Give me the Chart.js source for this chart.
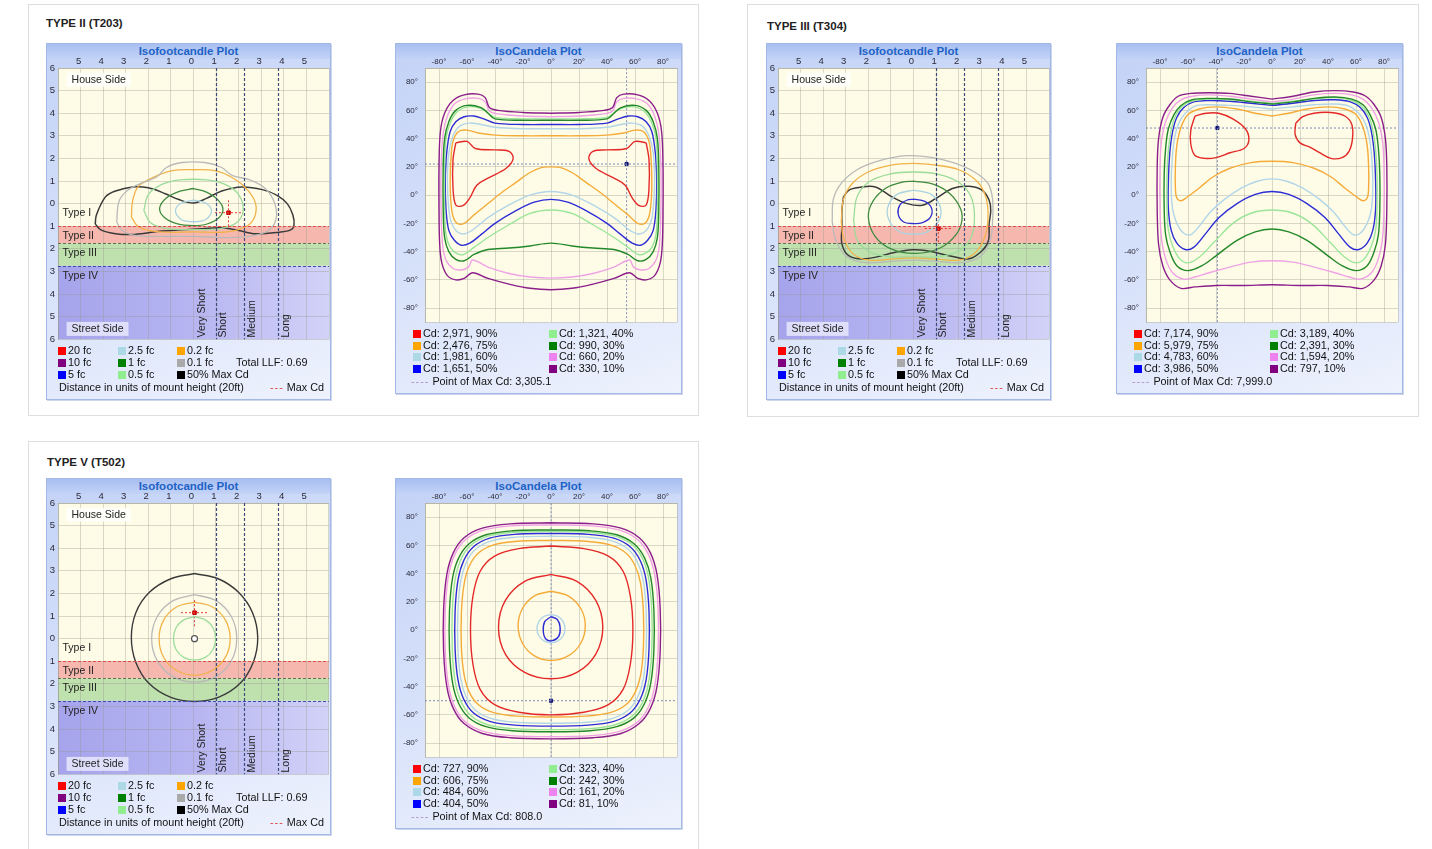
<!DOCTYPE html>
<html lang="en">
<head>
<meta charset="UTF-8">
<title>Isofootcandle / IsoCandela plots</title>
<script src="https://cdn.jsdelivr.net/npm/chart.js@4.4.1/dist/chart.umd.min.js"></script>
<style>
  body { margin:0; background:#fff; font-family:"Liberation Sans", Arial, sans-serif; width:1432px; height:849px; overflow:hidden; position:relative; }
  .card { position:absolute; border:1px solid #dedede; background:#fff; }
  .card-title { position:absolute; font-weight:bold; font-size:11.5px; color:#222; }
  .panel { position:absolute; border:1px solid #a3b8e6; background:linear-gradient(160deg,#c3d2f6 0%,#d8e2fa 55%,#eef2fd 100%); box-shadow:1px 1px 0 #cdd6ea; overflow:hidden; }
  .panel .bar { position:absolute; left:0; top:0; right:0; height:15px; background:linear-gradient(#a8bff0,#c3d3f7); }
  .panel .ptitle { position:absolute; left:0; right:0; top:1px; text-align:center; font-weight:bold; font-size:11.5px; color:#1d62c6; }
  .panel canvas { position:absolute; left:0; top:0; }
  .lg { position:absolute; font-size:10.8px; color:#111; white-space:nowrap; line-height:12px; }
  .sq { display:inline-block; width:8px; height:8px; margin-right:2px; vertical-align:-1px; }
</style>
</head>
<body>
<div class="card" style="left:28px;top:4px;width:669px;height:410px"></div>
<div class="card" style="left:747px;top:4px;width:670px;height:411px"></div>
<div class="card" style="left:28px;top:441px;width:669px;height:430px"></div>
<div class="card-title" style="left:46px;top:17px">TYPE II (T203)</div>
<div class="card-title" style="left:767px;top:20px">TYPE III (T304)</div>
<div class="card-title" style="left:47px;top:456px">TYPE V (T502)</div>

<script>
// ---------- axes ----------
const fcXTicks = [-6,-5,-4,-3,-2,-1,0,1,2,3,4,5,6];
const fcXLabels = ['','5','4','3','2','1','0','1','2','3','4','5',''];
const fcYTicks = [-6,-5,-4,-3,-2,-1,0,1,2,3,4,5,6];
const fcYLabels = ['6','5','4','3','2','1','0','1','2','3','4','5','6'];
const cdTicks = [-90,-80,-60,-40,-20,0,20,40,60,80,90];
const cdLabels = ['','-80°','-60°','-40°','-20°','0°','20°','40°','60°','80°',''];

// road classification
const bandEdges = [-1, -1.75, -2.75];          // Type II / III / IV limits
const lateralLines = [1, 2.25, 3.75];          // Very short / short / medium / long

// ---------- legends ----------
const fcLevels = ['20 fc','10 fc','5 fc','2.5 fc','1 fc','0.5 fc','0.2 fc','0.1 fc','50% Max Cd'];
const fcLegendColors = ['#ff0000','#800080','#0000ff','#add8e6','#008000','#90ee90','#ffa500','#a9a9a9','#000000'];
const cdPercents = ['90%','75%','60%','50%','40%','30%','20%','10%'];
const cdLegendColors = ['#ff0000','#ffa500','#add8e6','#0000ff','#90ee90','#008000','#ee82ee','#800080'];
const t2CdValues = ['2,971','2,476','1,981','1,651','1,321','990','660','330'];
const t3CdValues = ['7,174','5,979','4,783','3,986','3,189','2,391','1,594','797'];
const t5CdValues = ['727','606','484','404','323','242','161','81'];
const t2MaxCd = '3,305.1', t3MaxCd = '7,999.0', t5MaxCd = '808.0';
const totalLLF = '0.69';

// ---------- TYPE II isofootcandle ----------
const t2FcGray = [[-3.4,-0.8],[-3.3,0.1],[-2.9,0.6],[-2.2,0.95],[-1.6,1.2],[-1.2,1.6],[-0.5,1.82],[0.5,1.82],[1.25,1.6],[1.7,1.25],[2.5,1.05],[3.2,0.65],[3.6,0.0],[3.65,-0.7],[3.3,-1.2],[2.5,-1.45],[1.5,-1.5],[0,-1.45],[-1.5,-1.45],[-2.6,-1.4],[-3.2,-1.15],[-3.4,-0.8]];
const t2FcOrange = [[-2.75,-0.6],[-2.7,0.1],[-2.45,0.75],[-1.8,1.15],[-1.0,1.45],[0,1.5],[1.0,1.45],[1.8,1.1],[2.4,0.6],[2.75,0.0],[2.7,-0.6],[2.35,-1.0],[1.5,-1.25],[0,-1.25],[-1.5,-1.25],[-2.4,-1.05],[-2.75,-0.6]];
const t2FcLGreen = [[-2.2,-0.3],[-2.0,0.4],[-1.4,0.85],[-0.6,1.05],[0.6,1.05],[1.4,0.85],[2.0,0.4],[2.2,-0.3],[1.9,-0.85],[1.2,-1.1],[0,-1.15],[-1.2,-1.1],[-1.9,-0.85],[-2.2,-0.3]];
const t2FcDGreen = [[0,0.67],[0.6,0.5],[1.05,0.2],[1.3,-0.2],[1.15,-0.6],[0.6,-0.9],[0,-0.97],[-0.7,-0.9],[-1.3,-0.6],[-1.5,-0.2],[-1.2,0.25],[-0.6,0.55],[0,0.67]];
const t2FcLBlue = [[0,0.15],[0.5,0.05],[0.8,-0.3],[0.55,-0.7],[0,-0.8],[-0.55,-0.7],[-0.8,-0.3],[-0.5,0.05],[0,0.15]];
const t2FcBlack = [[-4.35,-0.9],[-4.3,-0.5],[-3.9,0.3],[-3.45,0.56],[-2.7,0.74],[-2.0,0.7],[-1.25,0.44],[-0.65,0.18],[0,0.03],[0.55,0.22],[1.25,0.56],[2.15,0.74],[3.05,0.62],[3.7,0.37],[4.15,0],[4.4,-0.5],[4.45,-0.96],[4.3,-1.16],[3.8,-1.26],[2.75,-1.33],[2.0,-1.19],[1.25,-1.07],[0.4,-1.11],[-0.5,-1.16],[-1.4,-1.21],[-2.6,-1.36],[-3.45,-1.33],[-4.1,-1.16],[-4.35,-0.9]];
const t2FcMax = [1.55,-0.4];

// ---------- TYPE III isofootcandle ----------
const t3FcGray = [[-3.6,-0.8],[-3.55,0.2],[-3.2,0.9],[-2.5,1.5],[-1.5,1.9],[-0.3,2.12],[0.8,2.05],[1.8,1.8],[2.7,1.4],[3.3,0.9],[3.5,0.2],[3.5,-0.8],[3.4,-1.6],[3.0,-2.3],[2.2,-2.6],[1.0,-2.55],[0,-2.5],[-1.0,-2.55],[-2.2,-2.6],[-3.0,-2.3],[-3.45,-1.6],[-3.6,-0.8]];
const t3FcOrange = [[-3.2,-0.8],[-3.1,0.2],[-2.7,0.9],[-2.0,1.4],[-1.0,1.7],[0,1.78],[1.0,1.7],[2.0,1.5],[2.8,1.0],[3.2,0.3],[3.3,-0.6],[3.15,-1.5],[2.7,-2.2],[2.0,-2.5],[1.0,-2.45],[0,-2.4],[-1.0,-2.45],[-2.0,-2.5],[-2.7,-2.2],[-3.1,-1.5],[-3.2,-0.8]];
const t3FcLGreen = [[-2.65,-0.7],[-2.5,0.3],[-2.0,0.95],[-1.1,1.3],[0,1.4],[1.1,1.3],[2.0,0.95],[2.55,0.3],[2.7,-0.7],[2.5,-1.6],[1.9,-2.15],[1.0,-2.35],[0,-2.35],[-1.0,-2.35],[-1.9,-2.15],[-2.5,-1.6],[-2.65,-0.7]];
const t3FcDGreen = [[0,1.0],[0.9,0.85],[1.6,0.45],[2.05,-0.15],[2.15,-0.7],[1.9,-1.35],[1.2,-1.95],[0.1,-2.2],[-1.0,-2.0],[-1.7,-1.45],[-2.0,-0.6],[-1.8,0.1],[-1.2,0.7],[-0.5,0.95],[0,1.0]];
const t3FcLBlue = [[0,0.6],[0.8,0.4],[1.2,-0.2],[1.1,-0.8],[0.6,-1.25],[0,-1.35],[-0.6,-1.25],[-1.05,-0.8],[-1.15,-0.2],[-0.75,0.4],[0,0.6]];
const t3FcBlue = [[0,0.2],[0.5,0.1],[0.8,-0.2],[0.75,-0.6],[0.4,-0.84],[0,-0.88],[-0.45,-0.8],[-0.68,-0.45],[-0.6,-0.05],[-0.3,0.15],[0,0.2]];
const t3FcBlack = [[-3.1,0.3],[-2.87,0.59],[-2.43,0.71],[-1.69,0.74],[-0.95,0.3],[-0.28,0],[0.39,-0.07],[0.98,0.22],[1.72,0.67],[2.46,0.77],[3.05,0.59],[3.35,0.15],[3.42,-0.3],[3.35,-0.89],[3.32,-1.63],[3.05,-2.07],[2.46,-2.44],[1.57,-2.3],[0.53,-2.07],[-0.06,-2.04],[-0.8,-2.15],[-2.13,-2.44],[-2.87,-2.3],[-3.17,-1.78],[-3.17,-1.04],[-3.17,-0.3],[-3.1,0.3]];
const t3FcMax = [1.1,-1.1];

// ---------- TYPE V isofootcandle ----------
const t5FcBlack = [[0.05,2.88],[1.1,2.65],[2.0,2.05],[2.62,1.15],[2.85,0.05],[2.65,-1.05],[2.05,-2.0],[1.1,-2.6],[0.05,-2.78],[-1.0,-2.6],[-1.95,-2.0],[-2.55,-1.05],[-2.75,0.05],[-2.55,1.15],[-1.95,2.05],[-1.0,2.65],[0.05,2.88]];
const t5FcGray = [[0.05,1.95],[1.0,1.68],[1.68,0.98],[1.92,0],[1.68,-0.98],[1.0,-1.68],[0.05,-1.92],[-0.9,-1.68],[-1.6,-0.98],[-1.85,0],[-1.6,0.98],[-0.9,1.68],[0.05,1.95]];
const t5FcOrange = [[0.05,1.62],[0.85,1.4],[1.42,0.82],[1.63,0],[1.42,-0.82],[0.85,-1.4],[0.05,-1.62],[-0.75,-1.4],[-1.32,-0.82],[-1.52,0],[-1.32,0.82],[-0.75,1.4],[0.05,1.62]];
const t5FcLGreen = [[0.05,0.97],[0.53,0.83],[0.87,0.48],[0.98,0],[0.87,-0.48],[0.53,-0.83],[0.05,-0.95],[-0.43,-0.83],[-0.77,-0.48],[-0.88,0],[-0.77,0.48],[-0.43,0.83],[0.05,0.97]];
const t5FcCenter = [[0.05,0]];
const t5FcMax = [0.05,1.15];

// ---------- TYPE II isocandela ----------
const t2CdPurple = [[0,58],[20,58.5],[38,60],[44,62],[47,69],[52,71.5],[62,71],[70,67],[76,58],[79,45],[80,20],[80,-10],[79.5,-35],[78,-48],[74,-57],[68,-60],[62,-59],[56,-55],[45,-59],[30,-63],[15,-66],[0,-67],[-15,-66],[-30,-63],[-45,-59],[-56,-55],[-62,-59],[-68,-60],[-74,-57],[-78,-48],[-79.5,-35],[-80,-10],[-80,20],[-79,45],[-76,58],[-70,67],[-62,71],[-52,71.5],[-47,69],[-44,62],[-38,60],[-20,58.5],[0,58]];
const t2CdPink = [[0,55.5],[20,56],[38,57.5],[44,59.5],[47,66],[52,68.5],[62,68],[69,64.5],[74,56],[77,44],[78.5,20],[78.5,-10],[77.5,-35],[75,-46],[70,-52],[64,-53],[59,-51],[56,-46],[45,-51],[30,-55.5],[15,-58],[0,-58.8],[-15,-58],[-30,-55.5],[-45,-51],[-56,-46],[-59,-51],[-64,-53],[-70,-52],[-75,-46],[-77.5,-35],[-78.5,-10],[-78.5,20],[-77,44],[-74,56],[-69,64.5],[-62,68],[-52,68.5],[-47,66],[-44,59.5],[-38,57.5],[-20,56],[0,55.5]];
const t2CdDGreen = [[0,53],[20,53],[40,54],[45,58],[50,62],[60,63.5],[68,60],[73,52],[76,40],[77,20],[77,-10],[76,-30],[73,-40],[68,-45.5],[62,-46.5],[55,-42],[45,-38.5],[30,-37.5],[15,-36],[0,-34],[-15,-36],[-30,-37.5],[-45,-38.5],[-55,-42],[-62,-46.5],[-68,-45.5],[-73,-40],[-76,-30],[-77,-10],[-77,20],[-76,40],[-73,52],[-68,60],[-60,63.5],[-50,62],[-45,58],[-40,54],[-20,53],[0,53]];
const t2CdLGreen = [[0,54],[20,54],[40,55],[46,59],[52,62],[60,62.5],[67,59],[72,51],[75,40],[76,20],[76,-10],[75,-28],[72,-37],[67,-41.5],[62,-42],[55,-37],[45,-30],[30,-21],[15,-13],[0,-10.5],[-15,-13],[-30,-21],[-45,-30],[-55,-37],[-62,-42],[-67,-41.5],[-72,-37],[-75,-28],[-76,-10],[-76,20],[-75,40],[-72,51],[-67,59],[-60,62.5],[-52,62],[-46,59],[-40,55],[-20,54],[0,54]];
const t2CdBlue = [[0,50],[20,50],[40,51],[48,54],[55,56],[62,55.5],[68,52],[72,45],[74.5,30],[75.5,10],[75,-10],[73,-25],[69,-32],[64,-35.5],[58,-34],[50,-28],[40,-20],[25,-11],[12,-5],[0,-3],[-12,-5],[-25,-11],[-40,-20],[-50,-28],[-58,-34],[-64,-35.5],[-69,-32],[-73,-25],[-75,-10],[-75.5,10],[-74.5,30],[-72,45],[-68,52],[-62,55.5],[-55,56],[-48,54],[-40,51],[-20,50],[0,50]];
const t2CdLBlue = [[0,47],[20,47],[40,48],[50,50],[58,51],[65,49],[70,42],[73,30],[74,10],[73,-10],[71,-20],[67,-26],[62,-27.5],[55,-24],[45,-16],[30,-7],[15,0],[0,2.5],[-15,0],[-30,-7],[-45,-16],[-55,-24],[-62,-27.5],[-67,-26],[-71,-20],[-73,-10],[-74,10],[-73,30],[-70,42],[-65,49],[-58,51],[-50,50],[-40,48],[-20,47],[0,47]];
const t2CdOrange = [[0,42],[20,42],[40,42.5],[52,44],[60,46],[66,45],[70,38],[71.5,25],[72,10],[71.5,-5],[70,-15],[67,-20],[62,-20],[55,-14],[45,-6],[35,2],[25,9],[15,16],[7,19.5],[0,20],[-7,19.5],[-15,16],[-25,9],[-35,2],[-45,-6],[-55,-14],[-62,-20],[-67,-20],[-70,-15],[-71.5,-5],[-72,10],[-71.5,25],[-70,38],[-66,45],[-60,46],[-52,44],[-40,42.5],[-20,42],[0,42]];
const t2CdRedL = [[-68,37],[-60,38],[-54,33],[-40,32],[-30,31],[-27,26],[-32,19],[-45,12],[-53,7],[-58,-2],[-63,-7.5],[-68,-7],[-70,5],[-70,25],[-68,37]];
const t2CdRedR = [[68,37],[60,38],[54,33],[40,32],[30,31],[27,26],[32,19],[45,12],[53,7],[58,-2],[63,-7.5],[68,-7],[70,5],[70,25],[68,37]];
const t2CdMax = [54,22];

// ---------- TYPE III isocandela ----------
const t3CdPurple = [[0,68],[15,70],[30,73],[45,74],[58,73],[67,70],[73,64],[78,55],[81,40],[82,20],[82,-10],[81,-35],[78,-50],[73,-60],[65,-66],[55,-65],[40,-64],[20,-64],[0,-63.5],[-20,-64],[-40,-64],[-55,-65],[-65,-66],[-73,-60],[-78,-50],[-81,-35],[-82,-10],[-82,20],[-81,40],[-78,55],[-73,64],[-67,70],[-58,72],[-45,72.5],[-30,72],[-15,70],[0,68]];
const t3CdPink = [[0,66],[15,68],[30,71],[45,72],[57,71],[65,68],[71,62],[76,52],[79,38],[80,20],[80,-10],[79,-30],[76,-45],[71,-55],[63,-59.5],[55,-58],[45,-55],[30,-51],[15,-47.5],[0,-46.5],[-15,-47.5],[-30,-51],[-45,-55],[-55,-58],[-63,-59.5],[-71,-55],[-76,-45],[-79,-30],[-80,-10],[-80,20],[-79,38],[-76,52],[-71,62],[-65,67.5],[-57,70],[-45,71],[-30,70],[-15,68],[0,66]];
const t3CdDGreen = [[0,64.5],[15,66],[30,68.5],[45,69.5],[57,68],[65,64],[70,57],[74,47],[76,33],[77,15],[77,-10],[76,-28],[73,-40],[68,-50],[60,-53.5],[50,-50],[40,-43],[25,-32],[12,-26],[0,-24],[-12,-26],[-25,-32],[-40,-43],[-50,-50],[-60,-53.5],[-68,-50],[-73,-40],[-76,-28],[-77,-10],[-77,15],[-76,33],[-74,47],[-70,57],[-65,63.5],[-57,67.5],[-45,68.5],[-30,68],[-15,66],[0,64.5]];
const t3CdLGreen = [[0,65],[15,66.5],[30,68],[45,69],[57,67],[64,63],[69,56],[72,46],[74,32],[75,15],[75,-10],[74,-25],[71,-36],[66,-45],[60,-48],[52,-44],[42,-34],[28,-20],[14,-12.5],[0,-10.5],[-14,-12.5],[-28,-20],[-42,-34],[-52,-44],[-60,-48],[-66,-45],[-71,-36],[-74,-25],[-75,-10],[-75,15],[-74,32],[-72,46],[-69,56],[-64,63],[-57,66.5],[-45,68],[-30,67.5],[-15,66.5],[0,65]];
const t3CdBlue = [[0,63.5],[15,65],[30,67],[45,67.5],[56,66],[63,62],[68,55],[71,45],[73,30],[74,10],[74,-10],[72,-25],[68,-34],[62,-38.5],[56,-37],[48,-28],[38,-16],[25,-6],[12,0.5],[0,2.5],[-12,0.5],[-25,-6],[-38,-16],[-48,-28],[-56,-37],[-62,-38.5],[-68,-34],[-72,-25],[-74,-10],[-74,10],[-73,30],[-71,45],[-68,55],[-63,62],[-56,66],[-45,67],[-30,66.5],[-15,65],[0,63.5]];
const t3CdLBlue = [[0,61],[15,62.5],[30,64],[45,64.5],[55,63],[62,58],[67,50],[70,38],[71.5,22],[72,5],[71,-10],[68,-20],[63,-27],[58,-28],[52,-22],[44,-12],[34,-3],[22,5],[10,10],[0,11.5],[-10,10],[-22,5],[-34,-3],[-44,-12],[-52,-22],[-58,-28],[-63,-27],[-68,-20],[-71,-10],[-72,5],[-71.5,22],[-70,38],[-67,50],[-62,58],[-55,63],[-45,64],[-30,63.5],[-15,62.5],[0,61]];
const t3CdOrange = [[0,56],[12,58],[25,61],[40,62.5],[52,61],[60,57],[65,48],[68,35],[69,20],[69,5],[68,-2],[65,-4],[60,-1],[52,5],[42,13],[30,19],[15,23],[0,24],[-15,23],[-30,19],[-42,13],[-52,5],[-60,-1],[-65,-4],[-68,-2],[-69,5],[-69,20],[-68,35],[-65,48],[-60,57],[-52,61],[-40,62.5],[-25,61],[-12,58],[0,56]];
const t3CdRedL = [[-55,56],[-47,58],[-38,58],[-28,54],[-19,47],[-16.5,39],[-20,33],[-30,30],[-40,26.5],[-48,26],[-55,28],[-58,36],[-58,46],[-55,56]];
const t3CdRedR = [[17,51],[22,55.5],[30,58],[42,58.5],[52,56],[57,50],[57.5,40],[55,31],[50,26.5],[42,26],[34,30],[27,34],[20,37],[16.5,43],[17,51]];
const t3CdMax = [-39,47.5];

// ---------- TYPE V isocandela ----------
const t5CdPurple = [[0,76],[30,75.2],[50,72.2],[63,65.4],[71,54.7],[75.7,39.5],[78,15],[78,-15],[75.7,-40],[71,-55.4],[63,-66.2],[50,-73.2],[30,-76.2],[0,-77],[-29.1,-76.2],[-49,-73.2],[-62.1,-66.2],[-69.8,-55.4],[-74.4,-40],[-76.7,-15],[-76.7,15],[-74.4,39.5],[-69.8,54.7],[-62.1,65.4],[-49,72.2],[-29.1,75.2],[0,76]];
const t5CdPink = [[0,74.5],[29,73.8],[49,70.8],[62,64],[69.6,53.6],[74.2,38.7],[76.5,15],[76.5,-15],[74.2,-39.3],[69.6,-54.4],[62,-65],[49,-71.7],[29,-74.7],[0,-75.5],[-28.7,-74.7],[-48.3,-71.7],[-61.2,-65],[-68.7,-54.4],[-73.2,-39.3],[-75.5,-15],[-75.5,15],[-73.2,38.7],[-68.7,53.6],[-61.2,64],[-48.3,70.8],[-28.7,73.8],[0,74.5]];
const t5CdDGreen = [[0,71],[27.9,70.3],[47,67.5],[59.5,61],[66.9,51],[71.3,37],[73.5,14],[73.5,-14],[71.3,-37.4],[66.9,-51.8],[59.5,-62],[47,-68.4],[27.9,-71.3],[0,-72],[-27.6,-71.3],[-46.4,-68.4],[-58.7,-62],[-66,-51.8],[-70.3,-37.4],[-72.5,-14],[-72.5,14],[-70.3,37],[-66,51],[-58.7,61],[-46.4,67.5],[-27.6,70.3],[0,71]];
const t5CdLGreen = [[0,70],[27.4,69.3],[46,66.5],[58.3,60.2],[65.5,50.4],[69.8,36.4],[72,14],[72,-14],[69.8,-36.7],[65.5,-50.8],[58.3,-60.6],[46,-67],[27.4,-69.8],[0,-70.5],[-26.8,-69.8],[-45.1,-67],[-57.1,-60.6],[-64.2,-50.8],[-68.4,-36.7],[-70.5,-14],[-70.5,14],[-68.4,36.4],[-64.2,50.4],[-57.1,60.2],[-45.1,66.5],[-26.8,69.3],[0,70]];
const t5CdBlue = [[0,68.5],[26.6,67.8],[44.8,65.1],[56.7,58.9],[63.7,49.3],[67.9,35.6],[70,13.5],[70,-13.5],[67.9,-35.4],[63.7,-49],[56.7,-58.5],[44.8,-64.6],[26.6,-67.3],[0,-68],[-26,-67.3],[-43.8,-64.6],[-55.5,-58.5],[-62.3,-49],[-66.4,-35.4],[-68.5,-13.5],[-68.5,13.5],[-66.4,35.6],[-62.3,49.3],[-55.5,58.9],[-43.8,65.1],[-26,67.8],[0,68.5]];
const t5CdLBlue = [[0,66.5],[25.8,65.8],[43.5,63.2],[55.1,57.2],[61.9,47.9],[66,34.6],[68,13],[68,-13],[66,-34.3],[61.9,-47.5],[55.1,-56.8],[43.5,-62.7],[25.8,-65.3],[0,-66],[-25.3,-65.3],[-42.6,-62.7],[-53.9,-56.8],[-60.5,-47.5],[-64.5,-34.3],[-66.5,-13],[-66.5,13],[-64.5,34.6],[-60.5,47.9],[-53.9,57.2],[-42.6,63.2],[-25.3,65.8],[0,66.5]];
const t5CdOrange = [[0,63.5],[25,62.9],[42.2,60.3],[53.5,54.6],[60,45.7],[64,33],[66,12.5],[66,-12.5],[64,-32],[60,-44.3],[53.5,-52.9],[42.2,-58.4],[25,-60.9],[0,-61.5],[-24.3,-60.9],[-41,-58.4],[-51.8,-52.9],[-58.2,-44.3],[-62,-32],[-64,-12.5],[-64,12.5],[-62,33],[-58.2,45.7],[-51.8,54.6],[-41,60.3],[-24.3,62.9],[0,63.5]];
const t5CdRedOuter = [[0,59.5],[23.4,57.7],[41,52.4],[51.5,41.7],[56.7,23.8],[58.5,0],[56.7,-24],[51.5,-42],[41,-52.8],[23.4,-58.2],[0,-60],[-23,-58.2],[-40.3,-52.8],[-50.6,-42],[-55.8,-24],[-57.5,0],[-55.8,23.8],[-50.6,41.7],[-40.3,52.4],[-23,57.7],[0,59.5]];
const t5CdRedInner = [[0,39.5],[18.5,34.5],[32,21],[37,2],[32,-17],[18.5,-30],[0,-34.5],[-18.8,-30],[-32.6,-17],[-37.5,2],[-32.6,21],[-18.8,34.5],[0,39.5]];
const t5CdOrangeInner = [[0,27.5],[12.2,24.3],[21.3,15.3],[24.5,3],[21.3,-9.3],[12.2,-18.3],[0,-21.5],[-11.8,-18.3],[-20.4,-9.3],[-23.5,3],[-20.4,15.3],[-11.8,24.3],[0,27.5]];
const t5CdLBlueInner = [[0,11],[5,9.7],[8.7,6],[10,1],[8.7,-4],[5,-7.7],[0,-9],[-5,-7.7],[-8.7,-4],[-10,1],[-8.7,6],[-5,9.7],[0,11]];
const t5CdBlueInner = [[0,9.5],[4.5,7.5],[6.5,2],[5.5,-4.5],[1,-7.5],[-3.5,-6.5],[-5.5,-1],[-4.5,6],[0,9.5]];
const t5CdMax = [0,-50];

// ---------- styles ----------
const fcColor = { gray:'#b9b9b9', orange:'#f2b24a', lgreen:'#9bdc9b', dgreen:'#3f8a3f', lblue:'#a9d2e2', blue:'#3030d0', black:'#3a3a3a' };
const cdColor = { red:'#e42828', orange:'#f4ab3a', lblue:'#b2d5e8', blue:'#2c2cd6', lgreen:'#9ae59a', dgreen:'#22882a', pink:'#f0a2e6', purple:'#8c1e8c' };
const gridStyle = { color:'rgba(150,150,140,0.35)', lineWidth:1, drawTicks:false };
const fontFam = '"Liberation Sans", Arial, sans-serif';

function lineSet(pts, color, w) {
  return { data: pts, borderColor: color, backgroundColor: color, borderWidth: w || 1.3, showLine: true, pointRadius: 0, tension: 0.35, fill: false };
}

function makePanel(left, top, w, h, title) {
  const p = document.createElement('div');
  p.className = 'panel';
  p.style.cssText = `left:${left}px;top:${top}px;width:${w-2}px;height:${h-2}px`;
  p.innerHTML = `<div class="bar"></div><div class="ptitle">${title}</div>`;
  document.body.appendChild(p);
  return p;
}

function addLg(panel, x, y, html) {
  const d = document.createElement('div');
  d.className = 'lg';
  d.style.left = x + 'px'; d.style.top = y + 'px';
  d.innerHTML = html;
  panel.appendChild(d);
  return d;
}

// make the plot area land on the wanted right / bottom edges
function fitArea(chart, right, bottom) {
  for (let k = 0; k < 2; k++) {
    const dw = Math.round(right - chart.chartArea.right);
    const dh = Math.round(bottom - chart.chartArea.bottom);
    if (!dw && !dh) break;
    chart.resize(chart.width + dw, chart.height + dh);
  }
}

// background, road bands, lines and labels of the isofootcandle plot
const fcDecor = {
  id: 'fcDecor',
  beforeDraw(chart) {
    const { ctx, chartArea: a, scales: { x, y } } = chart;
    ctx.save();
    ctx.fillStyle = '#fefce6';
    ctx.fillRect(a.left, a.top, a.width, a.height);
    const y1 = y.getPixelForValue(bandEdges[0]), y2 = y.getPixelForValue(bandEdges[1]), y3 = y.getPixelForValue(bandEdges[2]);
    ctx.fillStyle = '#f6b8ae'; ctx.fillRect(a.left, y1, a.width, y2 - y1);
    ctx.fillStyle = '#bfe1ae'; ctx.fillRect(a.left, y2, a.width, y3 - y2);
    const g = ctx.createLinearGradient(a.left, 0, a.right, 0);
    g.addColorStop(0, '#a5a4ec'); g.addColorStop(0.5, '#b6b5f1'); g.addColorStop(1, '#d2d2f8');
    ctx.fillStyle = g; ctx.fillRect(a.left, y3, a.width, a.bottom - y3);
    ctx.restore();
  },
  afterDatasetsDraw(chart) {
    const { ctx, chartArea: a, scales: { x, y } } = chart;
    ctx.save();
    ctx.lineWidth = 1;
    ctx.setLineDash([3, 2]);
    const bandCols = ['#e04a4a', '#6b6b55', '#3c4cb0'];
    bandEdges.forEach((v, i) => {
      const py = Math.round(y.getPixelForValue(v)) + 0.5;
      ctx.strokeStyle = bandCols[i];
      ctx.beginPath(); ctx.moveTo(a.left, py); ctx.lineTo(a.right, py); ctx.stroke();
    });
    ctx.strokeStyle = '#3e4b78';
    ctx.lineWidth = 1.2;
    lateralLines.forEach(v => {
      const px = Math.round(x.getPixelForValue(v)) + 0.5;
      ctx.beginPath(); ctx.moveTo(px, a.top); ctx.lineTo(px, a.bottom); ctx.stroke();
    });
    ctx.setLineDash([]);
    ctx.font = '10.5px ' + fontFam;
    ctx.textBaseline = 'middle';
    // side boxes
    const hx = x.getPixelForValue(-5.4), hy = y.getPixelForValue(5.48);
    const sy = y.getPixelForValue(-5.54);
    let tw = ctx.measureText('House Side').width;
    ctx.fillStyle = 'rgba(255,255,252,0.9)'; ctx.fillRect(hx - 5, hy - 7, tw + 10, 14);
    tw = ctx.measureText('Street Side').width;
    ctx.fillStyle = 'rgba(228,228,252,0.9)'; ctx.fillRect(hx - 5, sy - 7, tw + 10, 14);
    ctx.fillStyle = '#222';
    ctx.fillText('House Side', hx, hy);
    ctx.fillText('Street Side', hx, sy);
    [['Type I', -0.4], ['Type II', -1.42], ['Type III', -2.18], ['Type IV', -3.2]].forEach(([t, v]) => {
      ctx.fillText(t, x.getPixelForValue(-5.8), y.getPixelForValue(v));
    });
    [['Very Short', 0.38], ['Short', 1.33], ['Medium', 2.58], ['Long', 4.12]].forEach(([t, v]) => {
      ctx.save();
      ctx.translate(x.getPixelForValue(v), y.getPixelForValue(-5.92));
      ctx.rotate(-Math.PI / 2);
      ctx.textAlign = 'left';
      ctx.fillText(t, 0, 0);
      ctx.restore();
    });
    ctx.restore();
  }
};

const cdDecor = {
  id: 'cdDecor',
  beforeDraw(chart) {
    const { ctx, chartArea: a } = chart;
    ctx.save();
    ctx.fillStyle = '#fefce6';
    ctx.fillRect(a.left, a.top, a.width, a.height);
    ctx.restore();
  }
};

function axisOpts(ticks, labels, pos, fontSize, pad, size, offset) {
  return {
    type: 'linear', position: pos, min: ticks[0], max: ticks[ticks.length - 1],
    afterBuildTicks: s => { s.ticks = ticks.map(v => ({ value: v })); },
    afterFit: s => { if (pos === 'top') s.height = size; else s.width = size; },
    ticks: { callback: (v, i) => labels[i], font: { size: fontSize, family: fontFam }, color: '#2a2a3a', padding: pad, autoSkip: false, maxRotation: 0, labelOffset: offset || 0 },
    grid: gridStyle,
    border: { color: 'rgba(150,150,140,0.5)' }
  };
}

function baseOptions(padRight, xAxis, yAxis) {
  return {
    responsive: false, maintainAspectRatio: false, animation: false, events: [],
    layout: { padding: { left: 0, right: padRight, top: 12, bottom: 0 } },
    plugins: { legend: { display: false }, tooltip: { enabled: false } },
    scales: { x: xAxis, y: yAxis }
  };
}

function fcPlot(left, top, contours, maxPt, extra) {
  const panel = makePanel(left, top, 285, 357, 'Isofootcandle Plot');
  const cv = document.createElement('canvas');
  cv.width = 283; cv.height = 297;
  panel.appendChild(cv);
  const ds = [];
  if (extra) ds.push(extra);
  contours.forEach(([pts, c, w]) => ds.push(lineSet(pts, fcColor[c], w)));
  const h = 0.6;
  ds.push({ data: [[maxPt[0] - h, maxPt[1]], [maxPt[0] + h, maxPt[1]]], borderColor: '#e03a3a', borderDash: [2, 2], borderWidth: 1, showLine: true, pointRadius: 0 });
  ds.push({ data: [[maxPt[0], maxPt[1] - h], [maxPt[0], maxPt[1] + h]], borderColor: '#e03a3a', borderDash: [2, 2], borderWidth: 1, showLine: true, pointRadius: 0 });
  ds.push({ data: [maxPt], pointStyle: 'rect', pointRadius: 2.5, backgroundColor: '#e00000', borderColor: '#c00000', showLine: false });
  const chart = new Chart(cv, {
    type: 'scatter',
    data: { datasets: ds },
    options: baseOptions(1,
      axisOpts(fcXTicks, fcXLabels, 'top', 9.5, 1, 12, -2),
      axisOpts(fcYTicks, fcYLabels, 'left', 9.5, 3, 11)),
    plugins: [fcDecor]
  });
  fitArea(chart, 282, 295);
  const rows = [300, 312, 324], cols = [11, 71, 130];
  fcLevels.forEach((t, i) => {
    addLg(panel, cols[Math.floor(i / 3)], rows[i % 3], `<span class="sq" style="background:${fcLegendColors[i]}"></span>${t}`);
  });
  addLg(panel, 189, 312, 'Total LLF: ' + totalLLF);
  addLg(panel, 12, 337, 'Distance in units of mount height (20ft)');
  const m = addLg(panel, 0, 337, '<span style="color:#e04040;letter-spacing:1px">---</span> Max Cd');
  m.style.left = ''; m.style.right = '6px';
}

function cdPlot(left, top, contours, maxPt, values, maxText) {
  const panel = makePanel(left, top, 287, 351, 'IsoCandela Plot');
  const cv = document.createElement('canvas');
  cv.width = 285; cv.height = 280;
  panel.appendChild(cv);
  const ds = contours.map(([pts, c, w]) => lineSet(pts, cdColor[c], w || 1.4));
  ds.push({ data: [[cdTicks[0], maxPt[1]], [cdTicks[cdTicks.length - 1], maxPt[1]]], borderColor: '#7f8ab8', borderDash: [2, 2], borderWidth: 1, showLine: true, pointRadius: 0 });
  ds.push({ data: [[maxPt[0], cdTicks[0]], [maxPt[0], cdTicks[cdTicks.length - 1]]], borderColor: '#7f8ab8', borderDash: [2, 2], borderWidth: 1, showLine: true, pointRadius: 0 });
  ds.push({ data: [maxPt], pointStyle: 'rect', pointRadius: 2.2, backgroundColor: '#101070', borderColor: '#101070', showLine: false });
  const chart = new Chart(cv, {
    type: 'scatter',
    data: { datasets: ds },
    options: baseOptions(4,
      axisOpts(cdTicks, cdLabels, 'top', 8, 1, 12),
      axisOpts(cdTicks, cdLabels, 'left', 8, 7, 29)),
    plugins: [cdDecor]
  });
  fitArea(chart, 281, 278);
  cdPercents.forEach((p, i) => {
    const col = Math.floor(i / 4), row = i % 4;
    addLg(panel, col ? 153 : 17, 283 + row * 11.7, `<span class="sq" style="background:${cdLegendColors[i]}"></span>Cd: ${values[i]}, ${p}`);
  });
  addLg(panel, 15, 331, '<span style="color:#b090c8;letter-spacing:1px">----</span> Point of Max Cd: ' + maxText);
}

// TYPE II
fcPlot(46, 43, [
  [t2FcGray, 'gray'], [t2FcOrange, 'orange'], [t2FcLGreen, 'lgreen'], [t2FcDGreen, 'dgreen'],
  [t2FcLBlue, 'lblue'], [t2FcBlack, 'black', 1.5]
], t2FcMax);
cdPlot(395, 43, [
  [t2CdPurple, 'purple'], [t2CdPink, 'pink'], [t2CdDGreen, 'dgreen'], [t2CdLGreen, 'lgreen'],
  [t2CdLBlue, 'lblue'], [t2CdBlue, 'blue'], [t2CdOrange, 'orange'], [t2CdRedL, 'red'], [t2CdRedR, 'red']
], t2CdMax, t2CdValues, t2MaxCd);

// TYPE III
fcPlot(766, 43, [
  [t3FcGray, 'gray'], [t3FcOrange, 'orange'], [t3FcLGreen, 'lgreen'], [t3FcDGreen, 'dgreen'],
  [t3FcLBlue, 'lblue'], [t3FcBlue, 'blue'], [t3FcBlack, 'black', 1.5]
], t3FcMax);
cdPlot(1116, 43, [
  [t3CdPurple, 'purple'], [t3CdPink, 'pink'], [t3CdDGreen, 'dgreen'], [t3CdLGreen, 'lgreen'],
  [t3CdLBlue, 'lblue'], [t3CdBlue, 'blue'], [t3CdOrange, 'orange'], [t3CdRedL, 'red'], [t3CdRedR, 'red']
], t3CdMax, t3CdValues, t3MaxCd);

// TYPE V
fcPlot(46, 478, [
  [t5FcBlack, 'black', 1.4], [t5FcGray, 'gray'], [t5FcOrange, 'orange'], [t5FcLGreen, 'lgreen']
], t5FcMax, { data: t5FcCenter, pointRadius: 3, pointStyle: 'circle', borderColor: '#555', backgroundColor: '#fff', borderWidth: 1.2, showLine: false });
cdPlot(395, 478, [
  [t5CdPurple, 'purple'], [t5CdPink, 'pink'], [t5CdDGreen, 'dgreen'], [t5CdLGreen, 'lgreen'],
  [t5CdBlue, 'blue'], [t5CdLBlue, 'lblue'], [t5CdOrange, 'orange'], [t5CdRedOuter, 'red'],
  [t5CdRedInner, 'red'], [t5CdOrangeInner, 'orange'], [t5CdLBlueInner, 'lblue'], [t5CdBlueInner, 'blue']
], t5CdMax, t5CdValues, t5MaxCd);
</script>
</body>
</html>
